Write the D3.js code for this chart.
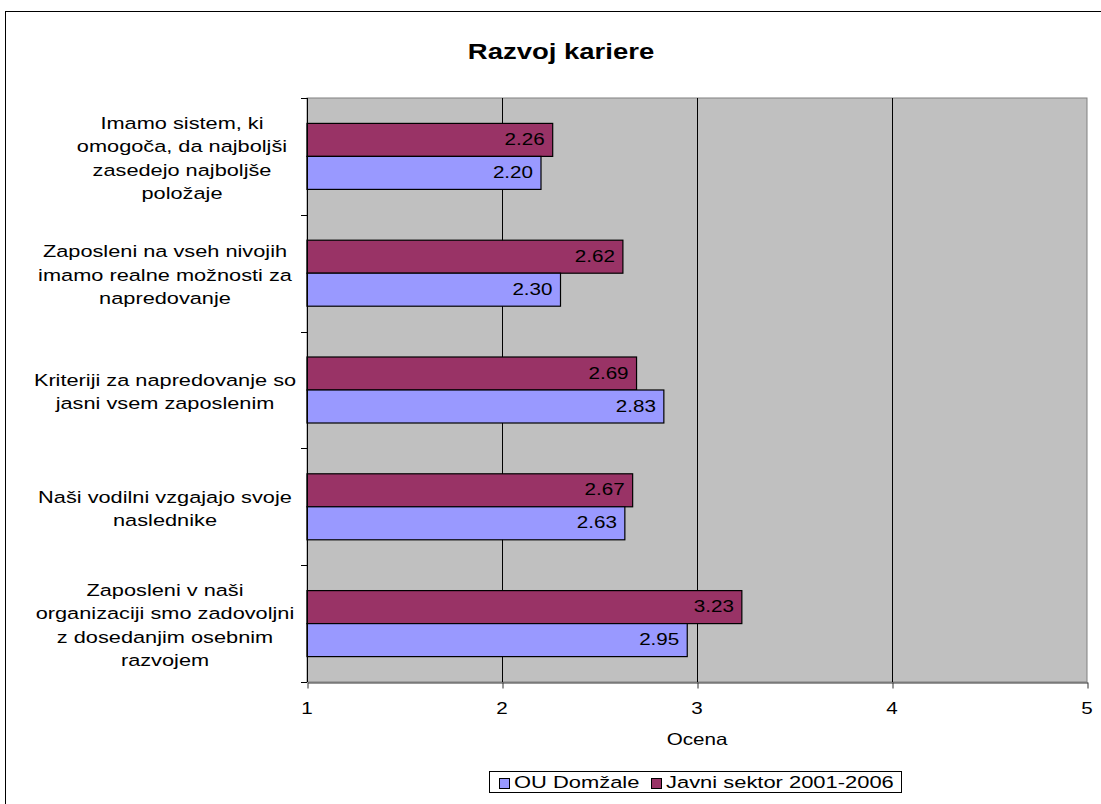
<!DOCTYPE html>
<html>
<head>
<meta charset="utf-8">
<script src="https://cdn.jsdelivr.net/npm/d3@7"></script>
<style>
  html, body { margin: 0; padding: 0; background: #fff; }
  svg { display: block; font-family: "Liberation Sans", Arial, sans-serif; }
</style>
</head>
<body>
<svg id="chart" width="1101" height="804"></svg>
<script>
// Survey statements (top to bottom), each split into display lines
const categories = [
  ["Imamo sistem, ki", "omogoča, da najboljši", "zasedejo najboljše", "položaje"],
  ["Zaposleni na vseh nivojih", "imamo realne možnosti za", "napredovanje"],
  ["Kriteriji za napredovanje so", "jasni vsem zaposlenim"],
  ["Naši vodilni vzgajajo svoje", "naslednike"],
  ["Zaposleni v naši", "organizaciji smo zadovoljni", "z dosedanjim osebnim", "razvojem"]
];
const seriesNames = ["OU Domžale", "Javni sektor 2001-2006"];
const ouDomzale = [2.20, 2.30, 2.83, 2.63, 2.95];
const javniSektor = [2.26, 2.62, 2.69, 2.67, 3.23];
const xTicks = [1, 2, 3, 4, 5];
const colors = { ou: "#9999FF", javni: "#993366" };

const svg = d3.select("#chart");
const plot = { left: 307, right: 1087, top: 98, bottom: 682 };
const SX = 1.25; // horizontal text stretch of the chart's typeface

// Adds a horizontally widened text element anchored at (x, y)
function label(parent, x, y, str, size, anchor, opts = {}) {
  return parent.append("text")
    .attr("transform", `translate(${x},${y}) scale(${opts.sx || SX},1)`)
    .attr("text-anchor", anchor)
    .attr("font-size", size)
    .attr("font-weight", opts.bold ? "bold" : null)
    .attr("fill", "#000")
    .text(str);
}

// Outer chart frame
svg.append("rect")
  .attr("x", 5.5).attr("y", 11.5)
  .attr("width", 1120).attr("height", 820)
  .attr("fill", "#fff").attr("stroke", "#000").attr("stroke-width", 1);

// Title
label(svg, 561, 59, "Razvoj kariere", 22, "middle", { bold: true });

const x = d3.scaleLinear().domain([1, 5]).range([plot.left, plot.right]);
const y = d3.scaleBand().domain(d3.range(categories.length))
  .range([plot.top, plot.bottom]).paddingInner(0).paddingOuter(0);
const bandH = y.bandwidth();
const barH = 33;

// Plot background
svg.append("rect")
  .attr("x", plot.left).attr("y", plot.top)
  .attr("width", plot.right - plot.left).attr("height", plot.bottom - plot.top)
  .attr("fill", "#C0C0C0").attr("stroke", "#808080").attr("stroke-width", 1);

// Vertical gridlines
svg.append("g").selectAll("line")
  .data(xTicks.slice(1, -1))
  .join("line")
  .attr("x1", d => Math.round(x(d)) + 0.5).attr("x2", d => Math.round(x(d)) + 0.5)
  .attr("y1", plot.top).attr("y2", plot.bottom)
  .attr("stroke", "#000").attr("stroke-width", 1);

// Bars with value labels inside their ends
const rows = categories.map((c, i) => ({ i, ou: ouDomzale[i], javni: javniSektor[i] }));
const bars = svg.append("g");
rows.forEach(r => {
  const mid = y(r.i) + bandH / 2;
  const specs = [
    { v: r.javni, top: mid - barH, fill: colors.javni },
    { v: r.ou, top: mid, fill: colors.ou }
  ];
  specs.forEach(s => {
    bars.append("rect")
      .attr("x", x(1)).attr("y", s.top)
      .attr("width", x(s.v) - x(1)).attr("height", barH)
      .attr("fill", s.fill).attr("stroke", "#000").attr("stroke-width", 1.2);
    label(bars, x(s.v) - 8, s.top + barH / 2 + 5, s.v.toFixed(2), 16.5, "end");
  });
});

// Y axis line and category ticks
svg.append("line")
  .attr("x1", plot.left + 0.5).attr("x2", plot.left + 0.5)
  .attr("y1", plot.top).attr("y2", plot.bottom)
  .attr("stroke", "#000");
svg.append("g").selectAll("line")
  .data(d3.range(categories.length + 1))
  .join("line")
  .attr("x1", plot.left - 6).attr("x2", plot.left)
  .attr("y1", d => Math.round(plot.top + d * bandH) + 0.5)
  .attr("y2", d => Math.round(plot.top + d * bandH) + 0.5)
  .attr("stroke", "#000");

// X axis
const xAxis = d3.axisBottom(x).tickValues(xTicks).tickSize(6).tickSizeOuter(0)
  .tickFormat(() => "");
const gx = svg.append("g").attr("transform", `translate(0.5,${plot.bottom + 0.5})`).call(xAxis);
gx.select(".domain").attr("stroke", "#333");
gx.selectAll(".tick line").attr("stroke", "#333");
const tickLabels = svg.append("g");
xTicks.forEach(t => label(tickLabels, x(t), 714, d3.format("d")(t), 16.5, "middle"));

// Category labels
const lineH = 23.5;
const labels = svg.append("g");
categories.forEach((lines, i) => {
  const mid = y(i) + bandH / 2;
  const cx = i === 0 ? 182 : 165;
  const first = mid - (lines.length - 1) * lineH / 2 + 7.5;
  lines.forEach((ln, k) => label(labels, cx, first + k * lineH, ln, 17.4, "middle"));
});

// Axis title
label(svg, 697, 745, "Ocena", 16.5, "middle");

// Legend
const lg = svg.append("g");
lg.append("rect")
  .attr("x", 489.5).attr("y", 771.5).attr("width", 412).attr("height", 21)
  .attr("fill", "#fff").attr("stroke", "#000");
const legendItems = [
  { name: seriesNames[0], color: colors.ou, x: 499 },
  { name: seriesNames[1], color: colors.javni, x: 651 }
];
legendItems.forEach(it => {
  lg.append("rect")
    .attr("x", it.x + 0.5).attr("y", 778.5).attr("width", 10).attr("height", 10)
    .attr("fill", it.color).attr("stroke", "#000");
  label(lg, it.x + 15, 788, it.name, 17.4, "start", { sx: 1.26 });
});
</script>
</body>
</html>
